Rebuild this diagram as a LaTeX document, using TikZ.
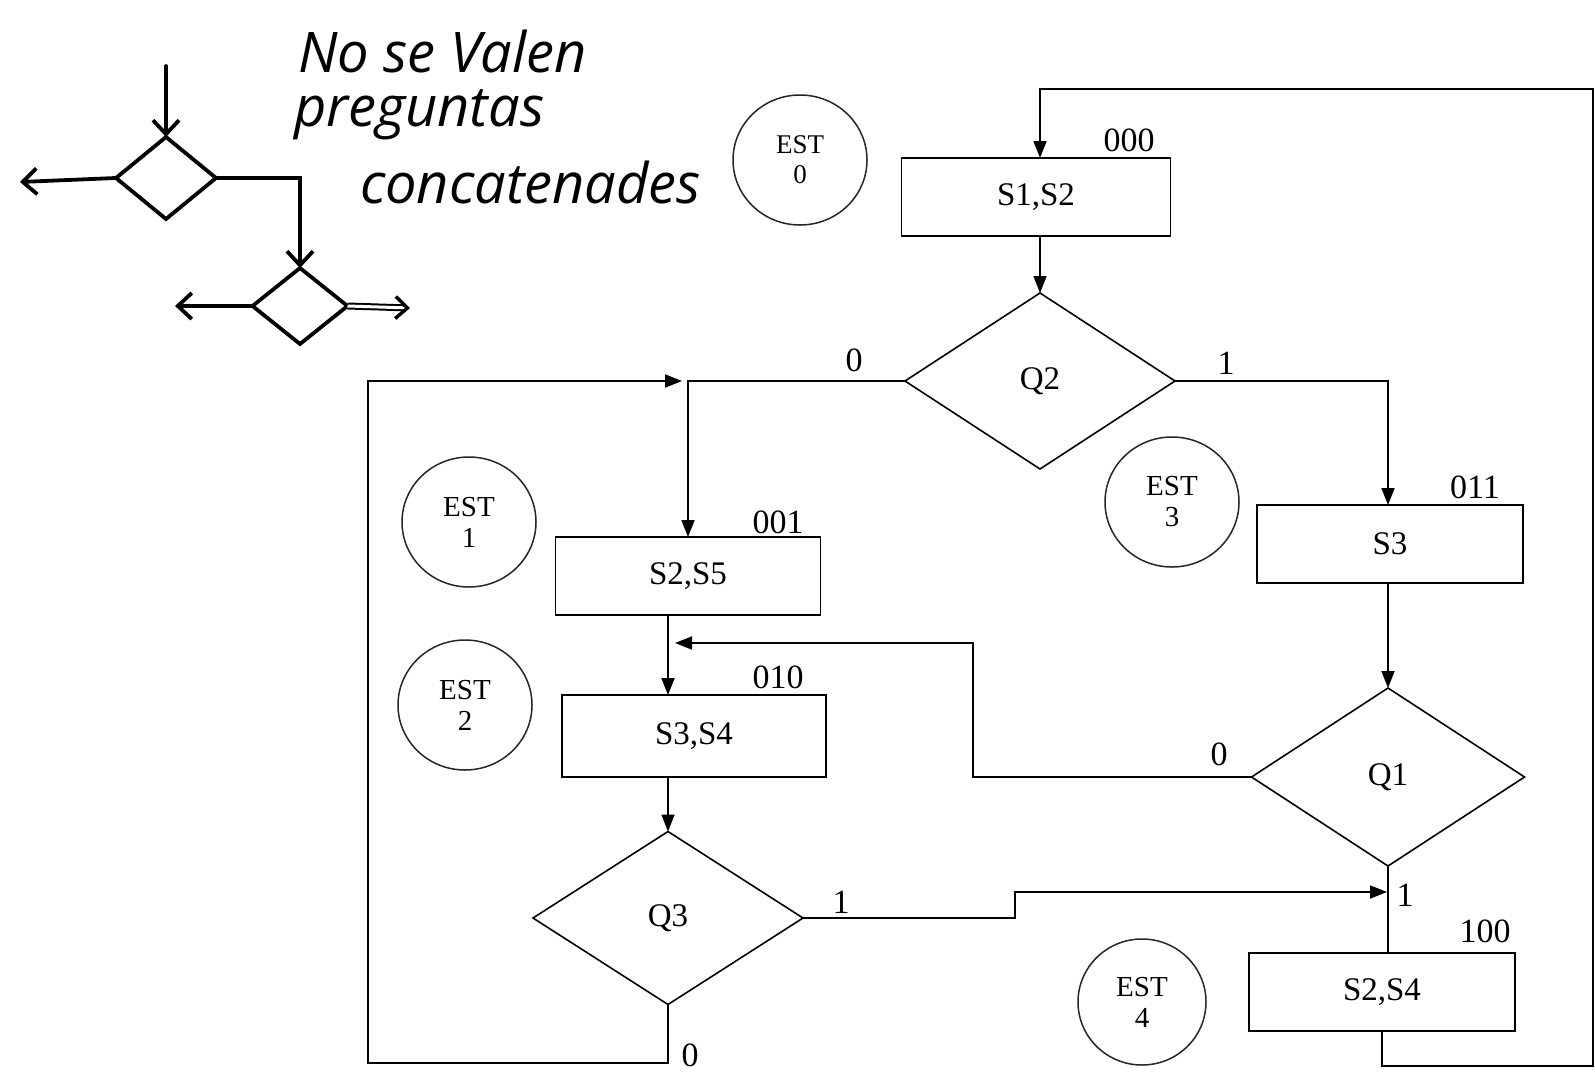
\documentclass[tikz,border=0pt]{standalone}
\usepackage{fontspec}
\setmainfont{Liberation Serif}
\newfontfamily\handfont{Open Sans}
\usetikzlibrary{shapes.geometric,arrows.meta}
\begin{document}
\begin{tikzpicture}[x=1pt,y=-1pt,
  every node/.style={inner sep=0pt,outer sep=0pt},
  box/.style={draw,line width=1.9pt,minimum width=266pt,minimum height=78pt,font=\fontsize{33}{35}\selectfont},
  dec/.style={draw,diamond,line width=1.6pt,minimum width=270pt,minimum height=176pt,aspect=1.53,font=\fontsize{33}{35}\selectfont},
  est/.style={draw=black!85,ellipse,line width=1.5pt,minimum width=134pt,minimum height=130pt,align=center,font=\fontsize{29}{31}\selectfont},
  code/.style={font=\fontsize{34}{34}\selectfont},
  flow/.style={line width=1.8pt,-{Triangle[length=17pt,width=13pt]}},
  plain/.style={line width=1.8pt},
  skd/.style={draw,diamond,line width=3.8pt,aspect=1.2},
  ska/.style={line width=3.8pt,line cap=round,-{Straight Barb[length=14pt,width=26pt,line width=3.8pt]}},
  hand/.style={font=\handfont\itshape\fontsize{56}{56}\selectfont}
]
\useasboundingbox[fill=white] (0,0) rectangle (1595,1071);

% handwritten note
\node[hand,anchor=base west] (h1) at (298,72) {No se Valen};
\node[hand,anchor=base west] (h2) at (294,126) {preguntas};
\node[hand,anchor=base west] (h3) at (360,203) {concatenades};

% sketch
\node[skd,minimum width=100pt,minimum height=82pt] (d1) at (166,178) {};
\node[skd,minimum width=95pt,minimum height=76pt] (d2) at (300,306) {};
\coordinate (s0) at (166,66);
\coordinate (s1) at (20,182);
\coordinate (s3) at (175,306);
\coordinate (s4) at (410,308);
\draw[ska] (s0) -- (d1.north);
\draw[ska] (d1.west) -- (s1);
\draw[ska] (d1.east) -| (d2.north);
\draw[ska] (d2.west) -- (s3);
\draw[line width=2pt,double distance=3pt,-{Straight Barb[length=12pt,width=22pt,line width=3.4pt]}] (d2.east) -- (s4);

% states
\node[est,font=\fontsize{27}{30}\selectfont] (e0) at (800,160) {EST\\0};
\node[est] (e1) at (469,522) {EST\\1};
\node[est] (e2) at (465,705) {EST\\2};
\node[est] (e3) at (1172,502) {EST\\3};
\node[est,minimum width=128pt,minimum height=126pt] (e4) at (1142,1002) {EST\\4};

% boxes
\node[box,minimum width=269pt] (b0) at (1036,197) {S1,S2};
\node[box,minimum width=265pt] (b1) at (688,576) {S2,S5};
\node[box,minimum width=264pt,minimum height=82pt] (b2) at (694,736) {S3,S4};
\node[box] (b3) at (1390,544) {S3};
\node[box] (b4) at (1382,992) {S2,S4};

% codes
\node[code,anchor=south] (c0) at (1129,152) {000};
\node[code,anchor=south] (c1) at (778,534) {001};
\node[code,anchor=south] (c2) at (778,689) {010};
\node[code,anchor=south] (c3) at (1475,499) {011};
\node[code,anchor=south] (c4) at (1485,943) {100};

% decisions
\node[dec] (q2) at (1040,381) {Q2};
\node[dec,minimum height=173pt] (q3) at (668,918) {Q3};
\node[dec,minimum width=273pt,minimum height=178pt] (q1) at (1388,777) {Q1};

% branch labels
\node[code,anchor=south] (l20) at (854,372) {0};
\node[code,anchor=south] (l21) at (1226,374) {1};
\node[code,anchor=south] (l31) at (841,913) {1};
\node[code] (l30) at (690,1055) {0};
\node[code,anchor=south] (l10) at (1219,766) {0};
\node[code] (l11) at (1405,895) {1};

% coordinates for routing
\coordinate (j1) at (q2.west -| b1.north);
\coordinate (lb) at (368,1063);
\coordinate (j2) at (q3.north |- 0,643);
\coordinate (k1) at (973,643);
\coordinate (m1) at (1015,892);
\coordinate (m2) at (q1.south |- 0,892);
\coordinate (rb) at (1593,1066);
\coordinate (rt) at (1593,89);

% connectors
\draw[flow] (b4.south) |- (rb) -- (rt) -| (b0.north -| q2.north);
\draw[flow] (b0.south -| q2.north) -- (q2.north);
\draw[flow] (q2.west) -| (b1.north);
\draw[flow] (q3.south) |- (lb) |- ([xshift=-6pt]j1);
\draw[flow] (q2.east) -| (b3.north -| q1.north);
\draw[flow] (b3.south -| q1.north) -- (q1.north);
\draw[flow] (b1.south -| q3.north) -- (b2.north -| q3.north);
\draw[flow] (q1.west) -| (k1) -- ([xshift=7pt]j2);
\draw[flow] (b2.south -| q3.north) -- (q3.north);
\draw[flow] (q3.east) -| (m1) -- ([xshift=-1pt]m2);
\draw[plain] (q1.south) -- (b4.north -| q1.south);
\end{tikzpicture}
\end{document}
